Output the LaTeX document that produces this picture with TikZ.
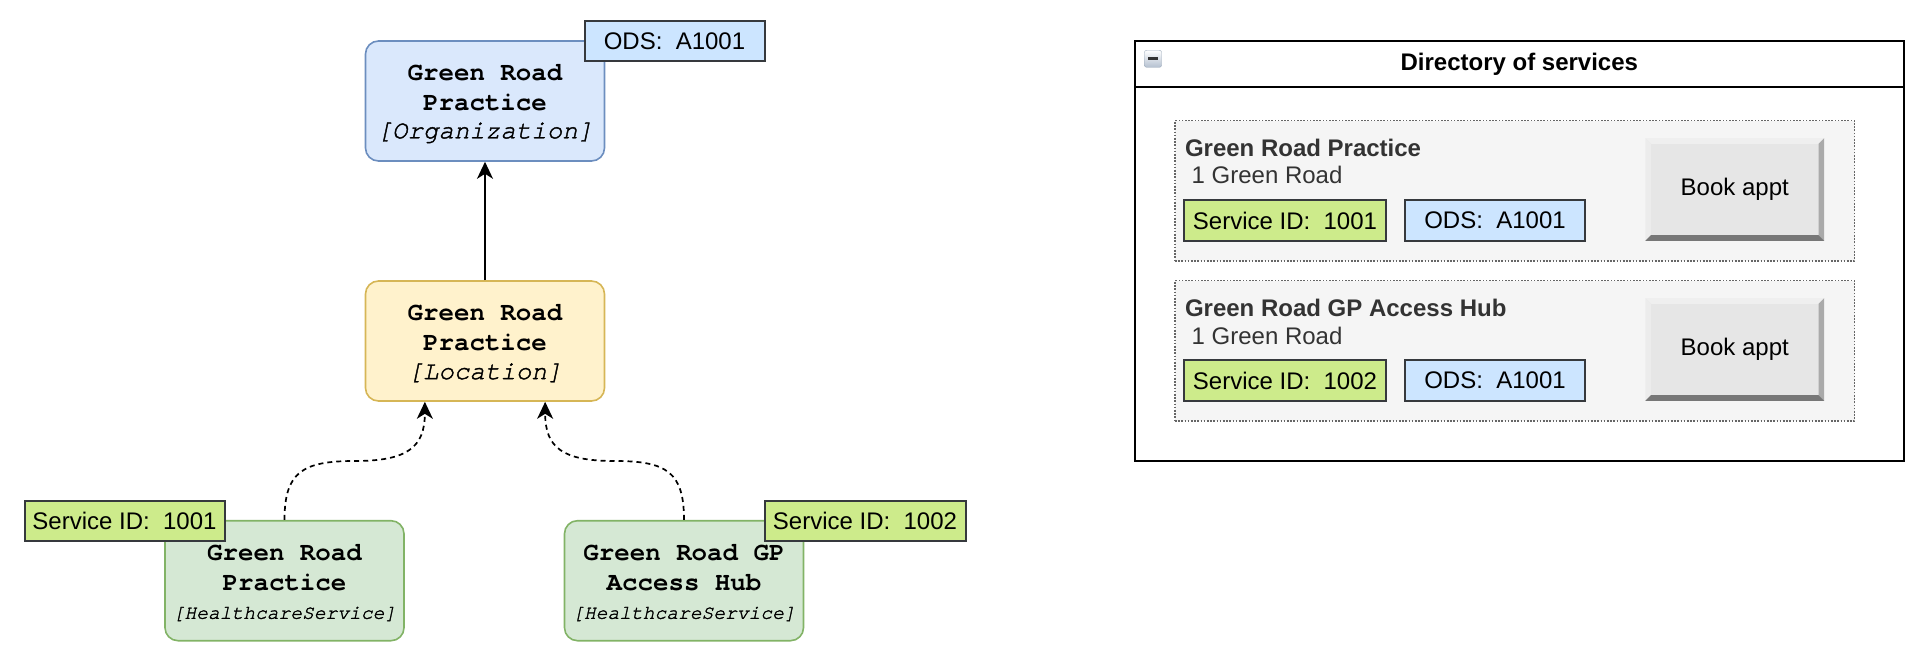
\documentclass[tikz,border=0pt]{standalone}
\usepackage{fontspec}
\setmainfont{Liberation Sans}
\newfontfamily\monof{texgyrecursor}[Extension=.otf, UprightFont=*-regular, BoldFont=*-bold, ItalicFont=*-italic, BoldItalicFont=*-bolditalic, ItalicFeatures={FakeBold=1.6}]
\usetikzlibrary{arrows.meta,calc}
\definecolor{orgfill}{HTML}{DAE8FC}
\definecolor{orgline}{HTML}{6C8EBF}
\definecolor{locfill}{HTML}{FFF2CC}
\definecolor{locline}{HTML}{D6B656}
\definecolor{svcfill}{HTML}{D5E8D4}
\definecolor{svcline}{HTML}{82B366}
\definecolor{odsfill}{HTML}{CCE5FF}
\definecolor{sidfill}{HTML}{CDEB8B}
\definecolor{tagline}{HTML}{36393D}
\definecolor{cardfill}{HTML}{F5F5F5}
\definecolor{cardline}{HTML}{666666}
\definecolor{cardtext}{HTML}{333333}
\definecolor{btnface}{HTML}{E6E6E6}
\definecolor{btnlight}{HTML}{EFEFEF}
\definecolor{btnleft}{HTML}{ECECEC}
\definecolor{btnright}{HTML}{AAAAAA}
\definecolor{btnbottom}{HTML}{777777}
\definecolor{iconline}{HTML}{9AA8B8}
\definecolor{iconbottom}{HTML}{B4C0D0}
\definecolor{iconminus}{HTML}{333333}
\tikzset{
  entity/.style={draw, line width=1.6pt, rounded corners=13pt, minimum width=239pt, minimum height=120pt, inner sep=0pt},
  mtitle/.style={inner sep=0pt, font=\monof\bfseries\fontsize{25.8}{30}\selectfont},
  mtype/.style={inner sep=0pt, font=\monof\itshape\fontsize{25.8}{30}\selectfont},
  mtypesmall/.style={inner sep=0pt, font=\monof\itshape\fontsize{19.6}{24}\selectfont},
  tag/.style={draw=tagline, line width=2pt, minimum height=40.5pt, inner sep=0pt, font=\fontsize{24}{28}\selectfont},
  card/.style={draw=cardline, fill=cardfill, line width=1.3pt, dash pattern=on 1.6pt off 1.6pt, minimum width=679.6pt, minimum height=140.3pt, inner sep=0pt},
  cardtitle/.style={inner sep=0pt, text=cardtext, font=\bfseries\fontsize{24}{28}\selectfont},
  cardaddr/.style={inner sep=0pt, text=cardtext, font=\fontsize{24}{28}\selectfont},
  btn/.style={fill=btnface, minimum width=178.5pt, minimum height=102.4pt, inner sep=0pt, font=\fontsize{24}{28}\selectfont},
  conn/.style={line width=1.7pt, -{Stealth[length=17pt, width=16pt, inset=5pt]}},
}
\begin{document}
\begin{tikzpicture}[x=1pt,y=-1pt]
\useasboundingbox (0,0) rectangle (1922,652);

% ---- left: entity graph ----
\node[entity, fill=orgfill, draw=orgline] (org) at (485,101) {};
\node[mtitle] (orgt1) at (485,72.3) {Green Road};
\node[mtitle] (orgt2) at (485,102.3) {Practice};
\node[mtype] (orgt3) at (485,132.8) {[Organization]};
\node[tag, fill=odsfill, minimum width=180pt] (orgods) at (674.5,40.8) {ODS:\ \ A1001};

\node[entity, fill=locfill, draw=locline] (loc) at (485,341) {};
\node[mtitle] (loct1) at (485,312.3) {Green Road};
\node[mtitle] (loct2) at (485,342.4) {Practice};
\node[mtype] (loct3) at (485,372.8) {[Location]};

\node[entity, fill=svcfill, draw=svcline] (svca) at (284.5,580.7) {};
\node[mtitle] (svcat1) at (284.5,552.4) {Green Road};
\node[mtitle] (svcat2) at (284.5,582.4) {Practice};
\node[mtypesmall] (svcat3) at (284.5,614) {[HealthcareService]};
\node[tag, fill=sidfill, minimum width=200pt] (svcasid) at (124.5,521) {Service ID:\ \ 1001};

\node[entity, fill=svcfill, draw=svcline] (svcb) at (684,580.7) {};
\node[mtitle] (svcbt1) at (684,552.4) {Green Road GP};
\node[mtitle] (svcbt2) at (684,582.4) {Access Hub};
\node[mtypesmall] (svcbt3) at (684,614) {[HealthcareService]};
\node[tag, fill=sidfill, minimum width=201pt] (svcbsid) at (865,521) {Service ID:\ \ 1002};

\draw[conn] (loc.north) -- (org.south);

\coordinate (la) at ($(loc.south west)!0.25!(loc.south east)$);
\coordinate (lb) at ($(loc.south west)!0.75!(loc.south east)$);
\coordinate (ma) at ($(svca.north)!0.5!(la)$);
\coordinate (mb) at ($(svcb.north)!0.5!(lb)$);
\draw[conn, dash pattern=on 5pt off 4pt] (svca.north) .. controls +(0,-48) and +(-52,0) .. (ma |- 0,461) .. controls +(52,0) and +(0,46) .. (la);
\draw[conn, dash pattern=on 5pt off 4pt] (svcb.north) .. controls +(0,-48) and +(52,0) .. (mb |- 0,461) .. controls +(-52,0) and +(0,46) .. (lb);

% ---- right: directory mock-up ----
\node[draw=black, line width=2.2pt, minimum width=769.4pt, minimum height=420.3pt, inner sep=0pt] (dir) at (1519.3,250.85) {};
\node[draw=black, line width=2.2pt, minimum width=769.4pt, minimum height=46.6pt, inner sep=0pt, anchor=north, font=\bfseries\fontsize{24}{28}\selectfont] (dirhead) at (dir.north) {Directory of services};
\node[draw=iconline, rounded corners=2pt, minimum width=17pt, minimum height=17pt, inner sep=0pt, top color=white, bottom color=iconbottom] (icon) at (1153,58.8) {};
\draw[line width=2.6pt, color=iconminus] ($(icon.west)+(4,0)$) -- ($(icon.east)+(-4,0)$);

% card 1
\node[card] (card1) at (1514.8,190.85) {};
\node[cardtitle, anchor=base west] (c1name) at (1184.8,156.7) {Green Road Practice};
\node[cardaddr, anchor=base west] (c1addr) at (1184.8,184) {\ 1 Green Road};
\node[tag, fill=sidfill, minimum width=201.4pt] (c1sid) at (1285,220.65) {Service ID:\ \ 1001};
\node[tag, fill=odsfill, minimum width=180.6pt] (c1ods) at (1495,220.65) {ODS:\ \ A1001};
\node[btn] (btn1) at (1734.75,189.5) {};
\fill[btnlight] (btn1.north west) -- (btn1.north east) -- ++(-5.7,5.7) -- ($(btn1.north west)+(5.7,5.7)$) -- cycle;
\fill[btnleft] (btn1.north west) -- ($(btn1.north west)+(5.7,5.7)$) -- ($(btn1.south west)+(5.7,-5.7)$) -- (btn1.south west) -- cycle;
\fill[btnright] (btn1.north east) -- (btn1.south east) -- ++(-5.7,-5.7) -- ($(btn1.north east)+(-5.7,5.7)$) -- cycle;
\fill[btnbottom] (btn1.south west) -- (btn1.south east) -- ++(-5.7,-5.7) -- ($(btn1.south west)+(5.7,-5.7)$) -- cycle;
\node[inner sep=0pt, font=\fontsize{24}{28}\selectfont] (btn1t) at (btn1.center) {Book appt};

% card 2
\node[card] (card2) at (1514.8,350.85) {};
\node[cardtitle, anchor=base west] (c2name) at (1184.8,316.7) {Green Road GP Access Hub};
\node[cardaddr, anchor=base west] (c2addr) at (1184.8,344) {\ 1 Green Road};
\node[tag, fill=sidfill, minimum width=201.4pt] (c2sid) at (1285,380.65) {Service ID:\ \ 1002};
\node[tag, fill=odsfill, minimum width=180.6pt] (c2ods) at (1495,380.65) {ODS:\ \ A1001};
\node[btn] (btn2) at (1734.75,349.5) {};
\fill[btnlight] (btn2.north west) -- (btn2.north east) -- ++(-5.7,5.7) -- ($(btn2.north west)+(5.7,5.7)$) -- cycle;
\fill[btnleft] (btn2.north west) -- ($(btn2.north west)+(5.7,5.7)$) -- ($(btn2.south west)+(5.7,-5.7)$) -- (btn2.south west) -- cycle;
\fill[btnright] (btn2.north east) -- (btn2.south east) -- ++(-5.7,-5.7) -- ($(btn2.north east)+(-5.7,5.7)$) -- cycle;
\fill[btnbottom] (btn2.south west) -- (btn2.south east) -- ++(-5.7,-5.7) -- ($(btn2.south west)+(5.7,-5.7)$) -- cycle;
\node[inner sep=0pt, font=\fontsize{24}{28}\selectfont] (btn2t) at (btn2.center) {Book appt};
\end{tikzpicture}
\end{document}
